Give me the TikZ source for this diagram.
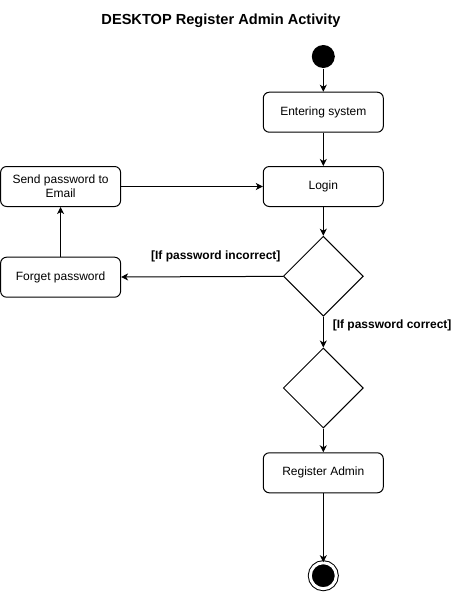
\documentclass[tikz,border=0pt]{standalone}
\usepackage{fontspec}
\setmainfont{Liberation Sans}
\usetikzlibrary{arrows.meta,shapes.geometric}

\begin{document}
\begin{tikzpicture}[x=1pt,y=-1pt,line width=1pt,
    act/.style={draw,rectangle,rounded corners=6pt,minimum width=120pt,minimum height=40pt,
      inner sep=2pt,align=center,font=\fontsize{12}{14}\selectfont},
    decision/.style={draw,diamond,minimum width=80pt,minimum height=80pt,inner sep=0pt},
    startnode/.style={circle,fill=black,minimum size=23pt,inner sep=0pt},
    endnode/.style={circle,draw,fill=black,minimum size=26pt,inner sep=0pt,double=white,double distance=3pt},
    guard/.style={font=\bfseries\fontsize{12}{14}\selectfont,inner sep=0pt},
    flow/.style={-{Stealth[length=7pt,width=7pt,inset=2pt]}}]
    \useasboundingbox (0,0) rectangle (461,592);

    \node[font=\bfseries\fontsize{14.6}{17}\selectfont] (title) at (221,21) {DESKTOP Register Admin Activity};

    \node[startnode] (start) at (323.3,56.5) {};
    \node[act] (enter) at (323.3,112.2) {Entering system};
    \node[act] (login) at (323.3,186.5) {Login};
    \node[decision] (dec1) at (323.3,276.2) {};
    \node[decision] (dec2) at (323.3,388) {};
    \node[act] (register) at (323.3,472.8) {Register Admin};
    \node[endnode] (stop) at (323.3,575.7) {};

    \node[act] (send) at (60.6,186.5) {Send password to\\Email};
    \node[act] (forget) at (60.6,277.2) {Forget password};

    \draw[flow] (start) -- (enter);
    \draw[flow] (enter) -- (login);
    \draw[flow] (login) -- (dec1);
    \draw[flow] (dec1) -- node[guard,pos=0.415,yshift=20pt] {[If password incorrect]} (forget);
    \draw[flow] (dec1) -- node[guard,pos=0.28,anchor=west,xshift=9pt] {[If password correct]} (dec2);
    \draw[flow] (dec2) -- (register);
    \draw[flow] (register) -- (stop);
    \draw[flow] (forget) -- (send);
    \draw[flow] (send) -- (login);
\end{tikzpicture}
\end{document}
